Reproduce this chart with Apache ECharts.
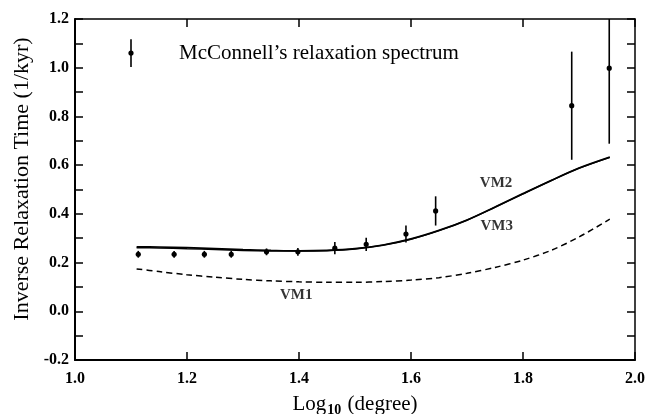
<!DOCTYPE html>
<html>
<head>
<meta charset="utf-8">
<script src="https://cdn.jsdelivr.net/npm/echarts@6/dist/echarts.min.js"></script>
<style>
  html, body { margin: 0; padding: 0; background: #fff; }
  #chart { width: 647px; height: 414px; }
</style>
</head>
<body>
<div id="chart"></div>
<script>
// Observed relaxation spectrum (McConnell): position, value, half-width of error bar
const obsX   = [1.113, 1.177, 1.231, 1.279, 1.342, 1.398, 1.464, 1.520, 1.591, 1.644, 1.887, 1.954];
const obsY   = [0.234, 0.234, 0.234, 0.234, 0.244, 0.244, 0.259, 0.275, 0.317, 0.412, 0.844, 0.998];
const obsErr = [0.014, 0.014, 0.014, 0.014, 0.014, 0.016, 0.025, 0.027, 0.035, 0.060, 0.222, 0.310];

// Legend sample point with its error bar
const legendPoint = [1.10, 1.06, 0.057];
const legendText = "McConnell\u2019s relaxation spectrum";

// Model curves
const curveX = [1.11, 1.15, 1.20, 1.25, 1.30, 1.35, 1.40, 1.45, 1.50, 1.55, 1.60, 1.65, 1.70, 1.75, 1.80, 1.85, 1.90, 1.955];
const vm1    = [0.174, 0.163, 0.150, 0.140, 0.131, 0.125, 0.121, 0.119, 0.119, 0.122, 0.128, 0.138, 0.156, 0.180, 0.210, 0.250, 0.305, 0.378];
const vm2    = [0.265, 0.264, 0.261, 0.257, 0.253, 0.250, 0.248, 0.250, 0.257, 0.272, 0.297, 0.332, 0.375, 0.428, 0.483, 0.537, 0.588, 0.633];
const vm3    = [0.261, 0.260, 0.257, 0.254, 0.250, 0.248, 0.247, 0.249, 0.256, 0.271, 0.296, 0.331, 0.374, 0.427, 0.482, 0.536, 0.587, 0.632];

// Curve labels
const curveNames  = ['VM1', 'VM2', 'VM3'];
const curveLabelX = [1.395, 1.752, 1.753];
const curveLabelY = [0.067, 0.527, 0.348];

// Axis ranges
const xRange = [1.0, 2.0];
const yRange = [-0.2, 1.2];

const serif = '"Liberation Serif", "DejaVu Serif", serif';

function zip(xs, ys) { return xs.map((x, i) => [x, ys[i]]); }

function renderErrorBar(params, api) {
  const x = api.value(0), y = api.value(1), e = api.value(2);
  const c = api.coord([x, y]);
  const top = api.coord([x, y + e]);
  const bot = api.coord([x, y - e]);
  const cs = params.coordSys;
  const t = Math.max(top[1], cs.y);
  const b = Math.min(bot[1], cs.y + cs.height);
  return {
    type: 'group',
    children: [
      { type: 'line', shape: { x1: c[0], y1: t, x2: c[0], y2: b },
        style: { stroke: '#000', lineWidth: 1.6 } },
      { type: 'circle', shape: { cx: c[0], cy: c[1], r: 2.6 },
        style: { fill: '#000' } }
    ]
  };
}

const chart = echarts.init(document.getElementById('chart'), null, { renderer: 'canvas' });

const tickLabelStyle = { fontFamily: serif, fontWeight: 'bold', fontSize: 16, color: '#000' };

chart.setOption({
  animation: false,
  backgroundColor: '#fff',
  grid: { left: 75, top: 19, right: 12, bottom: 54, containLabel: false, outerBoundsMode: 'none' },
  xAxis: [
    {
      type: 'value', min: xRange[0], max: xRange[1], interval: 0.2, position: 'bottom',
      axisLine: { onZero: false, lineStyle: { color: '#000', width: 2 } },
      axisTick: { inside: true, length: 8, lineStyle: { color: '#000', width: 1.5 } },
      axisLabel: Object.assign({ margin: 11, formatter: v => v.toFixed(1) }, tickLabelStyle),
      splitLine: { show: false },
      name: '{n|Log}{s|10}{n| (degree)}',
      nameLocation: 'middle', nameGap: 33,
      nameTextStyle: {
        rich: {
          n: { fontFamily: serif, fontSize: 21, color: '#000', verticalAlign: 'bottom', height: 22 },
          s: { fontFamily: serif, fontWeight: 'bold', fontSize: 14, color: '#000', verticalAlign: 'bottom', padding: [0, 1, -6, 1], height: 22 }
        }
      }
    },
    {
      type: 'value', min: xRange[0], max: xRange[1], interval: 0.2, position: 'top',
      axisLine: { onZero: false, lineStyle: { color: '#000', width: 1.5 } },
      axisTick: { inside: true, length: 8, lineStyle: { color: '#000', width: 1.5 } },
      axisLabel: { show: false },
      splitLine: { show: false }
    }
  ],
  yAxis: [
    {
      type: 'value', min: yRange[0], max: yRange[1], interval: 0.1, position: 'left',
      axisLine: { show: true, onZero: false, lineStyle: { color: '#000', width: 2 } },
      axisTick: { show: true, inside: true, length: 8, lineStyle: { color: '#000', width: 1.5 } },
      axisLabel: Object.assign({
        margin: 6,
        formatter: v => (Math.round(v * 10) % 2 === 0 ? v.toFixed(1) : '')
      }, tickLabelStyle),
      splitLine: { show: false }
    },
    {
      type: 'value', min: yRange[0], max: yRange[1], interval: 0.1, position: 'right',
      axisLine: { show: true, onZero: false, lineStyle: { color: '#000', width: 1.5 } },
      axisTick: { show: true, inside: true, length: 8, lineStyle: { color: '#000', width: 1.5 } },
      axisLabel: { show: false },
      splitLine: { show: false }
    }
  ],
  graphic: [
    {
      type: 'text', x: 22, y: 179, rotation: Math.PI / 2,
      style: {
        text: 'Inverse Relaxation Time (1/kyr)',
        font: '22px ' + serif, fill: '#000',
        textAlign: 'center', textVerticalAlign: 'middle'
      }
    },
    {
      type: 'text', x: 179, y: 53,
      style: {
        text: legendText, font: '21px ' + serif, fill: '#000',
        textAlign: 'left', textVerticalAlign: 'middle'
      }
    }
  ],
  series: [
    {
      name: 'VM1', type: 'line', data: zip(curveX, vm1), symbol: 'none', smooth: 0.3,
      lineStyle: { color: '#000', width: 1.5, type: [6, 4] }, z: 2
    },
    {
      name: 'VM2', type: 'line', data: zip(curveX, vm2), symbol: 'none', smooth: 0.3,
      lineStyle: { color: '#000', width: 1.7 }, z: 2
    },
    {
      name: 'VM3', type: 'line', data: zip(curveX, vm3), symbol: 'none', smooth: 0.3,
      lineStyle: { color: '#000', width: 1.5 }, z: 2
    },
    {
      name: 'spectrum', type: 'custom', renderItem: renderErrorBar,
      encode: { x: 0, y: 1 },
      data: obsX.map((x, i) => [x, obsY[i], obsErr[i]]), z: 3
    },
    {
      name: 'legendPoint', type: 'custom', renderItem: renderErrorBar,
      encode: { x: 0, y: 1 },
      data: [legendPoint], z: 3
    },
    {
      name: 'curveLabels', type: 'scatter', symbolSize: 0,
      data: curveNames.map((n, i) => ({ name: n, value: [curveLabelX[i], curveLabelY[i]] })),
      label: {
        show: true, position: 'inside', formatter: p => p.name,
        fontFamily: serif, fontWeight: 'bold', fontSize: 15, color: '#000'
      },
      z: 4
    }
  ]
});
</script>
</body>
</html>
